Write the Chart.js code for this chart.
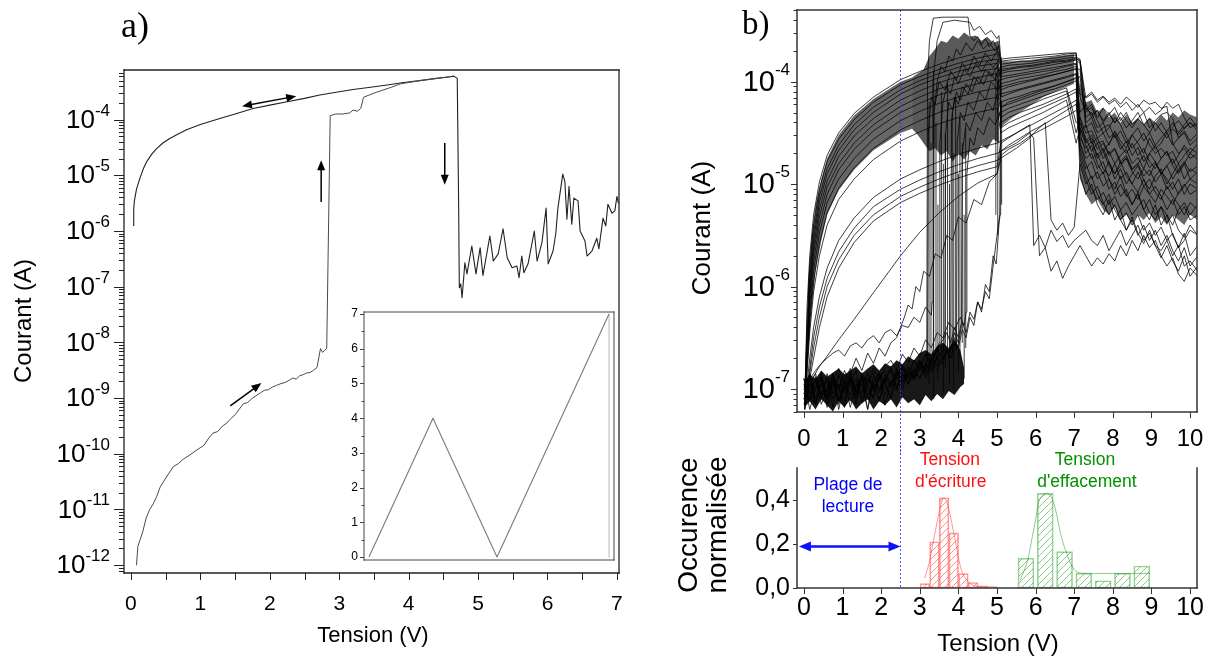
<!DOCTYPE html>
<html>
<head>
<meta charset="utf-8">
<title>Courant - Tension</title>
<script src="https://cdn.jsdelivr.net/npm/chart.js@4.4.1/dist/chart.umd.min.js"></script>
<style>
  html, body { margin: 0; padding: 0; background: #fff; }
  #page { position: relative; width: 1211px; height: 659px; overflow: hidden; }
  canvas { position: absolute; }
</style>
</head>
<body>
<div id="page">
  <canvas id="chartA" width="640" height="659" style="left:0;top:0"></canvas>
  <canvas id="chartIn" width="290" height="270" style="left:330px;top:300px"></canvas>
  <canvas id="chartB" width="551" height="455" style="left:660px;top:0"></canvas>
  <canvas id="chartH" width="551" height="214" style="left:660px;top:445px"></canvas>
</div>
<script>
// ---------- panel a : [tension V, log10(courant A)] ----------
var aXTicks = [0, 1, 2, 3, 4, 5, 6, 7];
var aYExp = [-12, -11, -10, -9, -8, -7, -6, -5, -4];

// first sweep (pristine, then set)
var aSet = [[0.08,-12.0],[0.10,-11.66],[0.13,-11.55],[0.17,-11.4],[0.22,-11.15],[0.27,-11.0],[0.32,-10.9],[0.37,-10.77],
  [0.42,-10.6],[0.46,-10.52],[0.52,-10.4],[0.61,-10.23],[0.68,-10.18],[0.75,-10.1],[0.85,-10.02],[0.95,-9.93],[1.05,-9.85],
  [1.12,-9.72],[1.18,-9.63],[1.25,-9.6],[1.32,-9.5],[1.38,-9.45],[1.43,-9.38],[1.5,-9.3],[1.56,-9.2],[1.62,-9.1],[1.68,-9.08],
  [1.75,-9.0],[1.8,-8.96],[1.86,-8.91],[1.92,-8.86],[1.98,-8.85],[2.04,-8.8],[2.1,-8.77],[2.16,-8.74],[2.22,-8.72],[2.28,-8.68],
  [2.33,-8.64],[2.38,-8.66],[2.43,-8.6],[2.48,-8.58],[2.53,-8.55],[2.58,-8.54],[2.63,-8.5],[2.68,-8.45],[2.71,-8.25],[2.73,-8.11],
  [2.76,-8.18],[2.79,-8.14],[2.82,-8.11],[2.87,-3.93],[2.95,-3.9],[3.05,-3.9],[3.15,-3.88],[3.2,-3.83],[3.26,-3.85],[3.31,-3.8],
  [3.35,-3.6],[3.49,-3.53],[3.63,-3.47],[3.75,-3.42],[3.88,-3.36],[4.16,-3.3],[4.6,-3.23]];

// second sweep (on state, reset, noisy off state)
var aOn = [[0.03,-5.9],[0.04,-5.6],[0.05,-5.46],[0.08,-5.25],[0.13,-5.05],[0.18,-4.88],[0.23,-4.75],[0.3,-4.62],[0.37,-4.52],
  [0.46,-4.42],[0.56,-4.34],[0.68,-4.26],[0.81,-4.18],[1.0,-4.09],[1.28,-3.98],[1.5,-3.9],[1.76,-3.8],[2.0,-3.74],[2.25,-3.68],
  [2.5,-3.62],[2.72,-3.56],[3.0,-3.5],[3.2,-3.46],[3.45,-3.42],[3.69,-3.38],[3.9,-3.34],[4.16,-3.3],[4.4,-3.26],[4.6,-3.23],
  [4.65,-3.22],[4.7,-3.26],[4.72,-5.5]];
var aOff = [[4.73,-7.02],[4.75,-6.95],[4.77,-7.2],[4.81,-6.57],[4.84,-6.77],[4.91,-6.27],[4.97,-6.77],[5.03,-6.3],[5.07,-6.8],
  [5.17,-6.09],[5.22,-6.54],[5.29,-6.41],[5.36,-5.96],[5.42,-6.48],[5.49,-6.66],[5.56,-6.63],[5.59,-6.84],[5.63,-6.45],[5.66,-6.75],
  [5.72,-6.59],[5.81,-6.0],[5.85,-6.54],[5.92,-6.21],[5.98,-5.59],[6.01,-6.59],[6.08,-6.36],[6.12,-6.04],[6.15,-5.59],[6.22,-4.98],
  [6.25,-5.11],[6.28,-5.79],[6.31,-5.2],[6.35,-5.88],[6.38,-5.41],[6.44,-5.46],[6.47,-6.0],[6.54,-6.18],[6.57,-6.45],[6.64,-6.36],
  [6.71,-6.13],[6.74,-6.32],[6.8,-5.77],[6.84,-5.91],[6.87,-5.52],[6.93,-5.68],[6.97,-5.64],[7.0,-5.38],[7.02,-5.5]];

// arrows drawn on panel a: [V1, log I1, V2, log I2, heads]
var aArrows = [[1.60,-3.76,2.38,-3.58,2],[2.74,-5.48,2.74,-4.73,1],[4.52,-4.42,4.52,-5.17,1],[1.43,-9.14,1.88,-8.73,1]];

// inset : applied voltage program
var inT = [0, 4, 8, 15];
var inV = [0, 4, 0, 7];
var inBackT = [15, 15];
var inBackV = [7, 0];
var inTicks = [0, 1, 2, 3, 4, 5, 6, 7];

// ---------- panel b (top) : log10(courant A) ----------
var bXTicks = [0, 1, 2, 3, 4, 5, 6, 7, 8, 9, 10];
var bYExp = [-7, -6, -5, -4];

// dense parts of the bundle (envelopes)
var bandOffV = [0.02,0.15,0.3,0.45,0.6,0.75,0.9,1.05,1.2,1.35,1.5,1.65,1.8,1.95,2.1,2.25,2.4,2.55,2.7,2.85,3.0,3.15,3.3,3.45,3.6,3.75,3.9,4.05,4.15];
var bandOffTop = [-6.95,-6.86,-6.9,-6.82,-6.88,-6.84,-6.8,-6.86,-6.82,-6.78,-6.85,-6.8,-6.76,-6.82,-6.75,-6.78,-6.72,-6.76,-6.68,-6.72,-6.65,-6.62,-6.66,-6.58,-6.55,-6.6,-6.52,-6.62,-6.8];
var bandOffBot = [-7.18,-7.12,-7.2,-7.1,-7.16,-7.22,-7.12,-7.18,-7.1,-7.2,-7.14,-7.1,-7.2,-7.12,-7.16,-7.1,-7.18,-7.08,-7.14,-7.1,-7.16,-7.06,-7.12,-7.05,-7.1,-7.02,-7.06,-6.98,-6.95];
var bandOnV = [0.1, 0.2, 0.3, 0.45, 0.6, 0.9, 1.3, 1.8, 2.5, 2.8];
var bandOnTop = [-6.0, -5.5, -5.2, -4.95, -4.75, -4.52, -4.33, -4.17, -4.0, -3.96];
var bandOnBot = [-6.7, -6.2, -5.85, -5.55, -5.3, -5.06, -4.86, -4.67, -4.5, -4.46];
var bandSetV = [2.8, 2.95, 3.1, 3.25, 3.4, 3.55, 3.7, 3.85, 4.0, 4.15, 4.3, 4.45, 4.6, 4.75, 4.9, 5.05];
var bandSetTop = [-3.96, -3.92, -3.88, -3.75, -3.68, -3.6, -3.62, -3.55, -3.58, -3.52, -3.56, -3.55, -3.6, -3.56, -3.62, -3.6];
var bandSetBot = [-4.46, -4.52, -4.6, -4.68, -4.65, -4.72, -4.68, -4.78, -4.7, -4.76, -4.68, -4.72, -4.62, -4.66, -4.56, -4.6];
var bandMidV = [5.08, 5.4, 5.8, 6.2, 6.6, 7.0];
var bandMidTop = [-3.8, -3.8, -3.79, -3.77, -3.75, -3.73];
var bandMidBot = [-4.45, -4.35, -4.25, -4.15, -4.08, -4.02];
var bandTailV = [7.15,7.3,7.45,7.6,7.75,7.9,8.05,8.2,8.35,8.5,8.65,8.8,8.95,9.1,9.25,9.4,9.55,9.7,9.85,10.0,10.2];
var bandTailTop = [-4.0,-4.2,-4.18,-4.3,-4.25,-4.35,-4.3,-4.4,-4.32,-4.4,-4.36,-4.42,-4.35,-4.4,-4.32,-4.38,-4.3,-4.35,-4.28,-4.32,-4.35];
var bandTailBot = [-4.95,-5.1,-5.2,-5.15,-5.25,-5.3,-5.22,-5.35,-5.3,-5.38,-5.3,-5.35,-5.28,-5.38,-5.32,-5.4,-5.3,-5.35,-5.4,-5.3,-5.35];

var onV = [0.02, 0.08, 0.15, 0.25, 0.4, 0.6, 0.9, 1.3, 1.8, 2.5, 3.0, 3.5, 4.0, 4.5, 5.0];
var onLogs = [
  [-7.15,-6.2,-5.7,-5.3,-4.98,-4.72,-4.5,-4.31,-4.15,-3.98,-3.9,-3.83,-3.77,-3.72,-3.68],
  [-7.1,-6.35,-5.8,-5.4,-5.05,-4.78,-4.56,-4.37,-4.2,-4.03,-3.95,-3.88,-3.82,-3.77,-3.73],
  [-7.2,-6.45,-5.9,-5.48,-5.12,-4.85,-4.62,-4.42,-4.25,-4.08,-3.99,-3.92,-3.86,-3.81,-3.78],
  [-7.05,-6.5,-5.98,-5.55,-5.18,-4.9,-4.67,-4.47,-4.3,-4.12,-4.03,-3.96,-3.9,-3.85,-3.82],
  [-7.15,-6.6,-6.05,-5.62,-5.25,-4.97,-4.73,-4.53,-4.36,-4.18,-4.09,-4.01,-3.95,-3.9,-3.87],
  [-7.1,-6.65,-6.1,-5.68,-5.32,-5.03,-4.8,-4.6,-4.42,-4.24,-4.15,-4.07,-4.01,-3.96,-3.92],
  [-7.2,-6.7,-6.2,-5.76,-5.4,-5.1,-4.86,-4.66,-4.48,-4.3,-4.21,-4.13,-4.07,-4.02,-3.98],
  [-7.1,-6.75,-6.28,-5.85,-5.48,-5.18,-4.95,-4.75,-4.56,-4.38,-4.29,-4.21,-4.15,-4.1,-4.06],
  [-7.15,-6.8,-6.35,-5.95,-5.58,-5.28,-5.04,-4.84,-4.65,-4.47,-4.38,-4.3,-4.24,-4.19,-4.15],
  [-7.2,-6.85,-6.45,-6.05,-5.7,-5.4,-5.15,-4.95,-4.76,-4.58,-4.49,-4.41,-4.35,-4.3,-4.26],
  [-7.1,-6.95,-6.7,-6.4,-6.1,-5.82,-5.55,-5.33,-5.13,-4.95,-4.86,-4.78,-4.71,-4.65,-4.6],
  [-7.15,-7.0,-6.8,-6.5,-6.2,-5.92,-5.66,-5.43,-5.22,-5.05,-4.96,-4.88,-4.81,-4.75,-4.7],
  [-7.2,-7.05,-6.85,-6.6,-6.3,-6.0,-5.74,-5.5,-5.3,-5.12,-5.03,-4.95,-4.88,-4.82,-4.77],
  [-7.1,-7.0,-6.9,-6.7,-6.4,-6.1,-5.82,-5.57,-5.36,-5.18,-5.09,-5.01,-4.94,-4.88,-4.83],
  [-7.15,-7.05,-6.98,-6.88,-6.78,-6.68,-6.52,-6.32,-6.06,-5.7,-5.47,-5.28,-5.12,-4.99,-4.9]
];
var onMid  = [0, 1, 2, 3, 4, 5, 6, 7, 8, 9, -1, -1, -1, 10, 11];
var onLow  = [-1, -1, -1, -1, -1, -1, -1, -1, -1, -1, 0, 1, 2, -1, -1];
var onTail = [0, 1, 10, 12, 2, 6, 15, 3, 4, 11, 8, 9, 14, 5, 7];

var offV = [0,0.15,0.3,0.45,0.6,0.75,0.9,1.05,1.2,1.35,1.5,1.65,1.8,1.95,2.1,2.25,2.4,2.55,2.7,2.85,3.0,3.15,3.3,3.45,3.6];
var offNoise = [
  [-6.95,-7.12,-6.88,-7.05,-6.92,-7.18,-6.85,-7.02,-6.9,-7.15,-6.86,-6.98,-7.1,-6.84,-6.96,-7.08,-6.82,-6.92,-6.78,-6.88,-6.74,-6.8],
  [-7.05,-6.9,-7.15,-6.95,-7.08,-6.86,-7.0,-7.18,-6.9,-7.02,-6.88,-7.1,-6.94,-7.04,-6.86,-6.98,-6.8,-6.95,-6.84,-6.9,-6.76,-6.85,-6.72],
  [-6.9,-7.2,-7.0,-6.85,-7.1,-6.95,-7.15,-6.92,-6.8,-7.05,-6.95,-7.2,-6.88,-7.0,-6.92,-6.78,-7.0,-6.85,-6.95,-6.82,-6.9,-6.75,-6.82,-6.7],
  [-7.1,-6.95,-6.85,-7.08,-6.98,-6.88,-7.2,-6.94,-7.06,-6.9,-7.14,-6.96,-6.84,-7.02,-6.92,-7.1,-6.88,-6.8,-6.96,-6.86,-6.72,-6.9,-6.78,-6.7,-6.62],
  [-6.98,-6.85,-7.1,-6.9,-7.18,-7.0,-6.86,-7.05,-6.95,-6.82,-7.1,-6.9,-7.02,-6.88,-7.16,-6.94,-6.86,-7.0,-6.84,-6.92,-6.8,-6.88,-6.74,-6.82,-6.7],
  [-7.15,-7.0,-6.9,-7.1,-6.85,-7.05,-6.96,-7.12,-6.88,-7.0,-6.9,-7.2,-6.94,-6.84,-7.06,-6.92,-7.02,-6.86,-6.94,-6.8,-6.9,-6.76,-6.84,-6.68,-6.76],
  [-6.9,-7.1,-7.0,-6.88,-7.16,-6.92,-7.02,-6.86,-7.12,-6.96,-7.04,-6.84,-6.98,-7.1,-6.9,-6.82,-6.98,-6.78,-6.9,-6.72,-6.82,-6.66,-6.74,-6.6,-6.52],
  [-7.0,-6.88,-7.14,-6.95,-7.05,-6.9,-7.0,-6.82,-6.96,-7.1,-6.86,-6.92,-6.8,-6.9,-6.78,-6.72,-6.82,-6.66,-6.74,-6.6,-6.68,-6.52,-6.6,-6.45,-6.5],
  [-7.1,-6.9,-6.82,-6.75,-6.7,-6.65,-6.62,-6.68,-6.58,-6.55,-6.6,-6.52,-6.48,-6.55,-6.45,-6.42,-6.48,-6.38,-6.4,-6.3,-6.35,-6.2,-6.28],
  [-6.95,-7.05,-6.9,-7.15,-7.0,-6.85,-7.1,-6.92,-7.18,-6.96,-6.88,-7.06,-6.94,-7.12,-6.9,-6.98,-6.84,-6.95,-6.8,-6.9,-6.74,-6.84],
  [-7.0,-7.12,-6.92,-7.05,-6.88,-7.1,-6.95,-7.02,-6.85,-7.08,-6.94,-6.86,-7.0,-6.9,-6.82,-6.95,-6.86,-6.78,-6.9,-6.8,-6.72,-6.82,-6.7,-6.78,-6.68],
  [-6.9,-7.05,-7.15,-6.95,-7.02,-6.88,-7.12,-6.98,-6.9,-7.05,-6.84,-6.96,-7.08,-6.86,-6.94,-6.8,-6.9,-6.76,-6.86,-6.72,-6.8,-6.66,-6.74,-6.62,-6.7],
  [-7.05,-6.9,-7.0,-6.85,-7.1,-6.92,-6.8,-6.95,-6.85,-6.7,-6.82,-6.65,-6.75,-6.6,-6.68,-6.55,-6.5]
];
var offSet = [
  [[3.18,-6.7],[3.2,-4.0],[3.25,-3.6],[3.35,-3.38],[3.6,-3.37],[4.25,-3.37],[4.3,-3.55],[4.4,-3.6],[4.5,-3.56],[4.6,-3.64],[4.7,-3.58],[4.8,-3.66],[4.9,-3.6],[5.0,-3.68],[5.05,-3.64]],
  [[3.35,-6.6],[3.37,-4.3],[3.45,-4.0],[3.55,-3.85],[3.65,-3.9],[3.75,-3.75],[3.85,-3.8],[3.95,-3.68],[4.05,-3.74],[4.2,-3.62],[4.35,-3.7],[4.5,-3.6],[4.65,-3.68],[4.8,-3.62],[4.95,-3.7],[5.05,-3.66]],
  [[3.5,-6.55],[3.52,-4.6],[3.6,-4.2],[3.7,-4.05],[3.8,-4.12],[3.9,-3.95],[4.0,-4.02],[4.15,-3.88],[4.3,-3.95],[4.45,-3.82],[4.6,-3.9],[4.75,-3.8],[4.9,-3.86],[5.08,-3.78]],
  [[3.65,-6.55],[3.67,-4.5],[3.75,-4.2],[3.85,-4.28],[3.95,-4.1],[4.05,-4.18],[4.2,-4.02],[4.35,-4.1],[4.5,-3.95],[4.65,-4.03],[4.8,-3.9],[4.95,-3.98],[5.05,-3.88]],
  [[3.7,-6.62],[3.75,-6.7],[3.8,-6.58],[3.82,-4.4],[3.9,-4.15],[4.0,-4.22],[4.1,-4.05],[4.25,-4.12],[4.4,-3.95],[4.55,-4.02],[4.7,-3.88],[4.85,-3.95],[5.0,-3.85],[5.08,-3.9]],
  [[3.7,-6.6],[3.8,-6.7],[3.9,-6.55],[3.95,-6.62],[3.97,-4.6],[4.05,-4.3],[4.15,-4.38],[4.25,-4.2],[4.4,-4.28],[4.55,-4.1],[4.7,-4.18],[4.85,-4.0],[5.0,-4.08],[5.05,-3.98]],
  [[3.7,-6.45],[3.8,-6.55],[3.9,-6.4],[4.0,-6.5],[4.08,-6.35],[4.1,-4.7],[4.2,-4.4],[4.3,-4.48],[4.45,-4.3],[4.6,-4.38],[4.75,-4.2],[4.9,-4.28],[5.0,-4.12],[5.08,-4.18]],
  [[3.75,-6.35],[3.9,-6.42],[4.05,-6.3],[4.15,-6.38],[4.2,-6.25],[4.22,-4.9],[4.3,-4.55],[4.4,-4.62],[4.5,-4.45],[4.65,-4.52],[4.8,-4.35],[4.95,-4.42],[5.08,-4.3]],
  [[3.32,-6.15],[3.34,-4.0],[3.45,-3.6],[3.6,-3.42],[3.9,-3.4],[4.3,-3.42],[4.4,-3.5],[4.55,-3.46],[4.7,-3.54],[4.85,-3.5],[5.0,-3.58],[5.05,-3.55]],
  [[3.2,-6.7],[3.22,-4.5],[3.3,-4.15],[3.4,-4.22],[3.5,-4.0],[3.65,-4.08],[3.8,-3.9],[3.95,-3.98],[4.1,-3.82],[4.25,-3.9],[4.4,-3.75],[4.55,-3.84],[4.7,-3.72],[4.85,-3.8],[5.0,-3.7],[5.08,-3.76]],
  [[3.8,-6.62],[3.9,-6.5],[4.0,-6.6],[4.1,-6.42],[4.2,-6.5],[4.3,-6.3],[4.4,-6.38],[4.5,-6.15],[4.6,-6.25],[4.7,-5.98],[4.8,-6.05],[4.9,-5.7],[4.98,-5.78],[5.05,-5.4],[5.08,-5.3],[5.09,-4.15]],
  [[3.8,-6.6],[3.9,-6.45],[4.0,-6.55],[4.1,-6.35],[4.2,-6.45],[4.3,-6.25],[4.4,-6.32],[4.5,-6.15],[4.6,-6.22],[4.7,-6.05],[4.8,-6.12],[4.9,-5.8],[5.0,-5.5],[5.07,-5.3],[5.09,-4.3]],
  [[2.6,-6.3],[2.7,-6.18],[2.8,-6.22],[2.9,-6.0],[3.0,-6.05],[3.1,-5.85],[3.25,-5.9],[3.4,-5.68],[3.55,-5.72],[3.7,-5.5],[3.85,-5.55],[4.0,-5.32],[4.2,-5.38],[4.4,-5.15],[4.6,-5.2],[4.8,-4.98],[5.0,-4.9],[5.08,-4.78]]
];
var offMid  = [12, 18, 13, 14, 15, 16, 17, 19, 20, 21, 22, 23, 24];
var offTail = [18, 21, 17, 13, 16, 19, 20, 22, 23, 24, 25, -1, -1];

// extra set / reset jumps : voltage, low log I, high log I
var jumpV  = [3.24, 3.29, 3.36, 3.42, 3.47, 3.56, 3.61, 3.66, 3.72, 3.77, 3.84, 3.88, 3.93, 4.0, 4.04, 4.1, 4.15, 4.19, 4.97, 5.02, 5.12];
var jumpLo = [-6.95, -6.8, -7.1, -6.75, -6.9, -6.7, -7.05, -6.8, -6.65, -6.95, -6.7, -7.0, -6.6, -6.85, -6.7, -6.55, -6.9, -6.6, -5.3, -5.5, -5.2];
var jumpHi = [-4.2, -4.6, -3.9, -4.4, -5.2, -4.1, -4.8, -4.5, -4.0, -5.0, -4.3, -4.7, -4.15, -4.9, -4.35, -4.6, -5.3, -4.45, -3.9, -4.0, -4.2];

var midV = [5.1, 5.3, 5.6, 5.9, 6.2, 6.5, 6.8, 7.05];
var midLogs = [
  [-3.8,-3.79,-3.78,-3.77,-3.76,-3.75,-3.73,-3.72],
  [-3.86,-3.84,-3.83,-3.82,-3.8,-3.79,-3.77,-3.76],
  [-3.92,-3.9,-3.89,-3.87,-3.85,-3.83,-3.81,-3.79],
  [-3.98,-3.96,-3.94,-3.92,-3.9,-3.88,-3.85,-3.83],
  [-4.05,-4.03,-4.0,-3.98,-3.95,-3.93,-3.9,-3.87],
  [-4.12,-4.1,-4.07,-4.04,-4.01,-3.98,-3.95,-3.92],
  [-4.2,-4.17,-4.14,-4.1,-4.07,-4.04,-4.0,-3.97],
  [-4.3,-4.26,-4.22,-4.18,-4.14,-4.1,-4.06,-4.4],
  [-4.4,-4.35,-4.3,-4.26,-4.22,-4.17,-4.12,-4.07],
  [-4.5,-4.45,-4.4,-4.35,-4.3,-4.24,-4.18,-4.6],
  [-4.6,-4.55,-4.48,-4.42,-4.36,-4.3,-4.24,-4.18],
  [-4.68,-4.62,-4.55,-4.48,-4.42,-4.35,-4.28,-4.22],
  [-3.83,-3.82,-3.8,-3.8,-3.78,-3.77,-3.75,-3.74],
  [-3.95,-3.94,-3.92,-3.9,-3.88,-3.86,-3.84,-3.82],
  [-4.02,-4.0,-3.97,-3.95,-3.93,-3.9,-3.88,-3.85],
  [-4.15,-4.12,-4.08,-4.05,-4.02,-3.99,-3.96,-3.93],
  [-4.25,-4.22,-4.18,-4.14,-4.1,-4.07,-4.03,-3.99],
  [-4.35,-4.3,-4.26,-4.22,-4.17,-4.13,-4.09,-4.5],
  [-3.88,-3.87,-3.85,-3.84,-3.82,-3.8,-3.79,-3.77],
  [-4.45,-4.4,-4.35,-4.3,-4.25,-4.2,-4.15,-4.1],
  [-3.78,-3.77,-3.76,-3.75,-3.74,-3.73,-3.72,-3.72],
  [-3.9,-3.88,-3.86,-3.85,-3.83,-3.81,-3.8,-3.78],
  [-4.08,-4.05,-4.02,-3.99,-3.96,-3.93,-3.9,-3.88],
  [-4.25,-4.2,-4.16,-4.12,-4.08,-4.04,-4.0,-3.96],
  [-4.72,-4.66,-4.6,-4.52,-4.46,-4.4,-4.34,-4.28]
];

var lowV = [5.5, 5.85, 5.95, 6.1, 6.25, 6.4, 6.55, 6.7, 6.85, 7.0];
var lowLogs = [
  [-4.5,-4.42,-5.6,-5.5,-5.62,-5.45,-5.56,-5.5,-5.62,-5.55],
  [-4.6,-4.5,-4.55,-5.7,-5.62,-5.85,-5.75,-5.92,-5.8,-5.7],
  [-4.65,-4.55,-4.5,-4.45,-4.4,-5.35,-5.45,-5.38,-5.5,-5.42]
];

var tailV = [7.15,7.3,7.45,7.6,7.75,7.9,8.05,8.2,8.35,8.5,8.65,8.8,8.95,9.1,9.25,9.4,9.55,9.7,9.85,10.0,10.2];
var tailLogs = [
  [-4.12,-4.15,-4.1,-4.18,-4.14,-4.2,-4.16,-4.22,-4.15,-4.2,-4.25,-4.18,-4.22,-4.2,-4.26,-4.24,-4.6,-4.7,-4.65,-4.75,-4.7],
  [-3.78,-4.25,-4.32,-4.28,-4.38,-4.3,-4.4,-4.35,-4.45,-4.38,-4.3,-4.42,-4.36,-4.48,-4.4,-4.5,-4.44,-4.38,-4.46,-4.4,-4.45],
  [-3.88,-4.45,-4.4,-4.55,-4.5,-4.62,-4.48,-4.58,-4.65,-4.52,-4.6,-4.7,-4.55,-4.66,-4.6,-4.5,-4.62,-4.55,-4.48,-4.58,-4.5],
  [-4.4,-4.55,-4.68,-4.6,-4.75,-4.68,-4.8,-4.72,-4.66,-4.8,-4.74,-4.85,-4.7,-4.78,-4.9,-4.82,-4.75,-4.88,-4.8,-4.7,-4.76],
  [-4.5,-4.7,-4.62,-4.8,-4.9,-4.78,-4.95,-4.85,-5.0,-4.9,-4.82,-4.96,-5.05,-4.92,-4.85,-5.0,-4.9,-4.8,-4.95,-4.85,-4.9],
  [-4.6,-4.8,-4.95,-4.88,-5.02,-4.95,-5.1,-5.0,-5.12,-5.05,-5.15,-5.02,-5.1,-5.18,-5.05,-5.12,-5.2,-5.08,-5.0,-5.1,-5.05],
  [-4.35,-4.5,-4.48,-4.6,-4.58,-4.7,-4.65,-4.78,-4.72,-4.85,-4.8,-4.92,-4.86,-4.98,-4.9,-5.05,-4.98,-5.1,-5.02,-4.95,-5.0],
  [-4.7,-4.9,-5.05,-5.15,-5.08,-5.2,-5.12,-5.25,-5.18,-5.3,-5.22,-5.15,-5.28,-5.35,-5.22,-5.3,-5.4,-5.25,-5.18,-5.3,-5.2],
  [-5.5,-5.45,-5.55,-5.6,-5.5,-5.65,-5.55,-5.45,-5.6,-5.5,-5.4,-5.55,-5.48,-5.6,-5.65,-5.55,-5.7,-5.6,-5.8,-5.75,-5.85],
  [-5.6,-5.7,-5.8,-5.72,-5.78,-5.68,-5.75,-5.6,-5.7,-5.55,-5.65,-5.5,-5.62,-5.55,-5.7,-5.8,-5.72,-5.88,-5.95,-5.82,-5.9],
  [-3.82,-4.4,-4.35,-4.5,-4.45,-4.42,-4.55,-4.48,-4.6,-4.52,-4.45,-4.58,-4.5,-4.62,-4.55,-4.48,-4.4,-4.5,-4.42,-4.35,-4.45],
  [-4.45,-4.62,-4.75,-4.7,-4.85,-4.92,-4.8,-4.95,-4.88,-5.0,-5.08,-4.95,-5.1,-5.02,-5.12,-5.25,-5.15,-5.3,-5.22,-5.35,-5.3],
  [-4.15,-4.3,-4.25,-4.38,-4.5,-4.45,-4.35,-4.42,-4.55,-4.65,-4.58,-4.5,-4.62,-4.7,-4.65,-4.72,-4.68,-4.8,-4.72,-4.65,-4.7],
  [-4.55,-4.65,-4.58,-4.72,-4.65,-4.78,-4.9,-4.82,-4.75,-4.88,-4.95,-4.85,-4.92,-4.8,-4.88,-4.95,-5.05,-4.95,-5.1,-5.0,-5.05],
  [-4.8,-5.0,-4.92,-5.1,-5.2,-5.1,-5.25,-5.35,-5.28,-5.4,-5.3,-5.45,-5.38,-5.5,-5.42,-5.55,-5.48,-5.62,-5.55,-5.45,-5.5],
  [-3.95,-4.35,-4.3,-4.45,-4.4,-4.55,-4.5,-4.62,-4.7,-4.6,-4.72,-4.65,-4.78,-4.85,-4.75,-4.68,-4.8,-4.72,-4.62,-4.7,-4.6],
  [-4.9,-5.1,-5.0,-5.2,-5.3,-5.15,-5.35,-5.25,-5.45,-5.35,-5.5,-5.4,-5.55,-5.45,-5.6,-5.5,-5.65,-5.75,-5.62,-5.8,-5.7],
  [-4.5,-4.42,-4.6,-4.55,-4.68,-4.6,-4.52,-4.66,-4.58,-4.72,-4.64,-4.78,-4.7,-4.62,-4.75,-4.68,-4.82,-4.9,-4.8,-4.95,-4.88],
  [-4.3,-4.22,-4.35,-4.28,-4.4,-4.32,-4.25,-4.38,-4.3,-4.42,-4.36,-4.3,-4.45,-4.38,-4.32,-4.3,-4.36,-4.55,-4.5,-4.62,-4.55],
  [-4.65,-4.85,-4.78,-4.95,-4.88,-5.05,-4.98,-5.12,-5.05,-5.2,-5.1,-5.25,-5.15,-5.3,-5.22,-5.38,-5.3,-5.45,-5.52,-5.4,-5.5],
  [-4.35,-4.6,-4.55,-4.75,-4.68,-4.82,-4.9,-4.78,-4.92,-5.0,-4.88,-5.02,-4.95,-5.08,-5.15,-5.02,-5.12,-5.2,-5.3,-5.18,-5.25],
  [-3.8,-4.28,-4.22,-4.35,-4.26,-4.32,-4.4,-4.3,-4.38,-4.45,-4.36,-4.42,-4.5,-4.4,-4.48,-4.55,-4.46,-4.52,-4.45,-4.4,-4.48],
  [-4.6,-4.75,-4.7,-4.85,-4.78,-4.95,-5.05,-4.92,-5.1,-5.2,-5.08,-5.25,-5.35,-5.2,-5.4,-5.3,-5.5,-5.62,-5.48,-5.7,-5.6],
  [-4.45,-4.58,-4.52,-4.66,-4.6,-4.72,-4.66,-4.8,-4.74,-4.86,-4.8,-4.72,-4.84,-4.78,-4.9,-4.82,-4.95,-4.86,-4.78,-4.88,-4.82],
  [-3.79,-4.16,-4.12,-4.2,-4.15,-4.22,-4.18,-4.25,-4.2,-4.28,-4.22,-4.3,-4.25,-4.32,-4.28,-4.2,-4.26,-4.22,-4.35,-4.45,-4.4],
  [-4.75,-4.95,-5.1,-5.02,-5.18,-5.3,-5.2,-5.35,-5.45,-5.32,-5.48,-5.58,-5.45,-5.6,-5.72,-5.6,-5.75,-5.85,-5.7,-5.9,-5.8]
];

// ---------- panel b (bottom) : histograms ----------
var hXTicks = [0, 1, 2, 3, 4, 5, 6, 7, 8, 9, 10];
var hYTicks = [0, 0.2, 0.4];
var hYLabels = ['0,0', '0,2', '0,4'];
var writeV = [3.13, 3.38, 3.63, 3.88, 4.13, 4.38, 4.63, 4.88];
var writeH = [0.02, 0.21, 0.41, 0.25, 0.065, 0.025, 0.01, 0.005];
var eraseV = [5.75, 6.25, 6.75, 7.25, 7.75, 8.25, 8.75];
var eraseH = [0.135, 0.43, 0.165, 0.067, 0.033, 0.067, 0.10];
var writeFitV = [3.13, 3.25, 3.35, 3.45, 3.55, 3.62, 3.7, 3.8, 3.9, 4.0, 4.08, 4.2, 4.35, 4.6, 5.0];
var writeFitH = [0.045, 0.12, 0.21, 0.3, 0.38, 0.41, 0.39, 0.32, 0.23, 0.14, 0.08, 0.04, 0.015, 0.006, 0.004];
var eraseFitV = [5.6, 5.8, 5.9, 6.0, 6.07, 6.18, 6.28, 6.38, 6.46, 6.55, 6.63, 6.72, 6.8, 6.9, 7.02, 7.24, 7.6, 8.2, 8.96];
var eraseFitH = [0.036, 0.13, 0.22, 0.31, 0.385, 0.42, 0.43, 0.42, 0.39, 0.33, 0.26, 0.2, 0.16, 0.115, 0.08, 0.067, 0.066, 0.066, 0.066];
var readRange = [-0.13, 2.5, 0.188];
var readLimit = 2.5;

// ---------- helpers ----------
var SANS = '"Liberation Sans", Arial, sans-serif';
var SERIF = '"Liberation Serif", "Times New Roman", serif';

function pts(list) { return list.map(function (p) { return { x: p[0], y: Math.pow(10, p[1]) }; }); }
function seg(xs, ls) {
  var out = [];
  ls.forEach(function (l, i) { if (xs[i] !== undefined) out.push({ x: xs[i], y: Math.pow(10, l) }); });
  return out;
}
function xy(xs, ys) { return xs.map(function (x, i) { return { x: x, y: ys[i] }; }); }

function line(ctx, x1, y1, x2, y2) { ctx.beginPath(); ctx.moveTo(x1, y1); ctx.lineTo(x2, y2); ctx.stroke(); }

function frame(chart, sides, w, col) {
  var a = chart.chartArea, ctx = chart.ctx;
  ctx.save(); ctx.strokeStyle = col; ctx.lineWidth = w; ctx.lineCap = 'square';
  if (sides.indexOf('l') >= 0) line(ctx, a.left, a.top, a.left, a.bottom);
  if (sides.indexOf('r') >= 0) line(ctx, a.right, a.top, a.right, a.bottom);
  if (sides.indexOf('t') >= 0) line(ctx, a.left, a.top, a.right, a.top);
  if (sides.indexOf('b') >= 0) line(ctx, a.left, a.bottom, a.right, a.bottom);
  ctx.restore();
}
function ticksX(chart, vals, len, col) {
  var s = chart.scales.x, a = chart.chartArea, ctx = chart.ctx;
  ctx.save(); ctx.strokeStyle = col; ctx.lineWidth = 1;
  vals.forEach(function (v) { var x = Math.round(s.getPixelForValue(v)) + 0.5; line(ctx, x, a.bottom, x, a.bottom + len); });
  ctx.restore();
}
function ticksY(chart, vals, len, col) {
  var s = chart.scales.y, a = chart.chartArea, ctx = chart.ctx;
  ctx.save(); ctx.strokeStyle = col; ctx.lineWidth = 1;
  vals.forEach(function (v) { var y = Math.round(s.getPixelForValue(v)) + 0.5; line(ctx, a.left, y, a.left - len, y); });
  ctx.restore();
}
function labelsX(chart, vals, dy, font) {
  var s = chart.scales.x, a = chart.chartArea, ctx = chart.ctx;
  ctx.save(); ctx.fillStyle = '#000'; ctx.font = font; ctx.textAlign = 'center'; ctx.textBaseline = 'middle';
  vals.forEach(function (v) { ctx.fillText(String(v), s.getPixelForValue(v), a.bottom + dy); });
  ctx.restore();
}
function labelsY(chart, vals, texts, dx, font) {
  var s = chart.scales.y, a = chart.chartArea, ctx = chart.ctx;
  ctx.save(); ctx.fillStyle = '#000'; ctx.font = font; ctx.textAlign = 'right'; ctx.textBaseline = 'middle';
  vals.forEach(function (v, i) { ctx.fillText(texts[i], a.left - dx, s.getPixelForValue(v)); });
  ctx.restore();
}
function powLabels(chart, exps, dx, f1, f2, up) {
  var s = chart.scales.y, a = chart.chartArea, ctx = chart.ctx;
  ctx.save(); ctx.fillStyle = '#000'; ctx.textAlign = 'left';
  exps.forEach(function (e) {
    var y = s.getPixelForValue(Math.pow(10, e)), xr = a.left - dx;
    ctx.font = f2; var w2 = ctx.measureText(String(e)).width;
    ctx.font = f1; var w1 = ctx.measureText('10').width;
    ctx.textBaseline = 'middle'; ctx.fillText('10', xr - w2 - w1, y + 1);
    ctx.font = f2; ctx.textBaseline = 'alphabetic'; ctx.fillText(String(e), xr - w2, y - up);
  });
  ctx.restore();
}
function logTicks(lo, hi) {
  var major = [], minor = [];
  for (var e = -14; e <= -2; e++) for (var m = 1; m < 10; m++) {
    var v = m * Math.pow(10, e);
    if (v < lo || v > hi) continue;
    (m === 1 ? major : minor).push(v);
  }
  return { major: major, minor: minor };
}
function text(ctx, t, x, y, font, col, align, base) {
  ctx.save(); ctx.fillStyle = col; ctx.font = font; ctx.textAlign = align || 'center'; ctx.textBaseline = base || 'middle';
  ctx.fillText(t, x, y); ctx.restore();
}
function vText(ctx, t, x, y, font, col) {
  ctx.save(); ctx.translate(x, y); ctx.rotate(-Math.PI / 2); ctx.fillStyle = col; ctx.font = font;
  ctx.textAlign = 'center'; ctx.textBaseline = 'alphabetic'; ctx.fillText(t, 0, 0); ctx.restore();
}
function head(ctx, x1, y1, x2, y2, len, half) {
  var ang = Math.atan2(y2 - y1, x2 - x1), c = Math.cos(ang), s = Math.sin(ang);
  ctx.beginPath(); ctx.moveTo(x2, y2);
  ctx.lineTo(x2 - len * c + half * s, y2 - len * s - half * c);
  ctx.lineTo(x2 - len * c - half * s, y2 - len * s + half * c);
  ctx.closePath(); ctx.fill();
}
function arrow(ctx, x1, y1, x2, y2, heads, lw, len, half, col) {
  ctx.save(); ctx.strokeStyle = col; ctx.fillStyle = col; ctx.lineWidth = lw;
  var ang = Math.atan2(y2 - y1, x2 - x1);
  var sx = heads === 2 ? x1 + (len - 2) * Math.cos(ang) : x1, sy = heads === 2 ? y1 + (len - 2) * Math.sin(ang) : y1;
  line(ctx, sx, sy, x2 - (len - 2) * Math.cos(ang), y2 - (len - 2) * Math.sin(ang));
  head(ctx, x1, y1, x2, y2, len, half);
  if (heads === 2) head(ctx, x2, y2, x1, y1, len, half);
  ctx.restore();
}
function hatch(col) {
  var c = document.createElement('canvas'); c.width = 7; c.height = 7;
  var g = c.getContext('2d'); g.strokeStyle = col; g.lineWidth = 1;
  g.beginPath(); g.moveTo(0, 7); g.lineTo(7, 0); g.moveTo(-1, 1); g.lineTo(1, -1); g.moveTo(6, 8); g.lineTo(8, 6); g.stroke();
  return g.createPattern(c, 'repeat');
}

var common = {
  responsive: false, animation: false, events: [], devicePixelRatio: 1,
  plugins: { legend: { display: false }, tooltip: { enabled: false } }
};
function opts(pad, xs, ys) {
  return Object.assign({}, common, { layout: { padding: pad }, scales: { x: xs, y: ys } });
}
function curve(data, col, w) {
  return { data: data, borderColor: col, borderWidth: w, pointRadius: 0, tension: 0, fill: false, borderJoinStyle: 'round' };
}
function band(xs, top, bot, col) {
  return [
    { data: seg(xs, top), fill: '+1', backgroundColor: col, borderColor: 'rgba(0,0,0,0)', borderWidth: 1, pointRadius: 0, tension: 0 },
    { data: seg(xs, bot), fill: false, borderColor: 'rgba(0,0,0,0)', borderWidth: 1, pointRadius: 0, tension: 0 }
  ];
}

// ---------- panel a ----------
var decoA = {
  id: 'decoA',
  afterDraw: function (chart) {
    var ctx = chart.ctx, sx = chart.scales.x, sy = chart.scales.y;
    frame(chart, 'lrtb', 1.3, '#222');
    var xt = []; for (var v = 0; v <= 7; v += 0.5) xt.push(v);
    ticksX(chart, xt, 7, '#222');
    labelsX(chart, aXTicks, 31, '21px ' + SANS);
    var lt = logTicks(sy.min, sy.max);
    ticksY(chart, lt.major, 10, '#222');
    ticksY(chart, lt.minor, 5, '#222');
    powLabels(chart, aYExp, 14, '26px ' + SANS, '17px ' + SANS, 4);
    text(ctx, 'Tension (V)', 373, 636, '22px ' + SANS, '#000');
    vText(ctx, 'Courant (A)', 31, 321, '24px ' + SANS, '#000');
    text(ctx, 'a)', 121, 37, '36px ' + SERIF, '#000', 'left', 'alphabetic');
    aArrows.forEach(function (r) {
      arrow(ctx, sx.getPixelForValue(r[0]), sy.getPixelForValue(Math.pow(10, r[1])),
        sx.getPixelForValue(r[2]), sy.getPixelForValue(Math.pow(10, r[3])), r[4], 1.5, 10, 4, '#000');
    });
  }
};
new Chart(document.getElementById('chartA'), {
  type: 'line',
  data: { datasets: [curve(pts(aSet), '#4a4a4a', 1), curve(pts(aOn.concat(aOff)), '#222', 1.1)] },
  options: opts({ left: 124, top: 70, right: 21, bottom: 86 },
    { type: 'linear', min: -0.1, max: 7.03, display: false },
    { type: 'logarithmic', min: Math.pow(10, -12.14), max: Math.pow(10, -3.11), display: false }),
  plugins: [decoA]
});

// inset
var decoIn = {
  id: 'decoIn',
  afterDraw: function (chart) {
    frame(chart, 'lrtb', 1, '#444');
    var minor = []; for (var v = 0.5; v < 7; v += 1) minor.push(v);
    ticksY(chart, inTicks, 4, '#444');
    ticksY(chart, minor, 2.5, '#444');
    labelsY(chart, inTicks, inTicks.map(String), 6, '12px ' + SANS);
  }
};
new Chart(document.getElementById('chartIn'), {
  type: 'line',
  data: { datasets: [curve(xy(inT, inV), '#7a7a7a', 1.1), curve(xy(inBackT, inBackV), '#c4c4c4', 1.2)] },
  options: opts({ left: 34, top: 12, right: 6, bottom: 10 },
    { type: 'linear', min: -0.31, max: 15.31, display: false },
    { type: 'linear', min: -0.086, max: 7.06, display: false }),
  plugins: [decoIn]
});

// ---------- panel b top ----------
var bSets = [].concat(
  band(bandOffV, bandOffTop, bandOffBot, 'rgba(0,0,0,0.9)'),
  band(bandOnV, bandOnTop, bandOnBot, 'rgba(0,0,0,0.6)'),
  band(bandSetV, bandSetTop, bandSetBot, 'rgba(0,0,0,0.65)'),
  band(bandMidV, bandMidTop, bandMidBot, 'rgba(0,0,0,0.55)'),
  band(bandTailV, bandTailTop, bandTailBot, 'rgba(0,0,0,0.6)')
);
var ink = 'rgba(0,0,0,0.9)';
onLogs.forEach(function (ls, i) {
  var p = seg(onV, ls);
  if (onMid[i] >= 0) p = p.concat(seg(midV, midLogs[onMid[i]]));
  if (onLow[i] >= 0) p = p.concat(seg(lowV, lowLogs[onLow[i]]));
  if (onTail[i] >= 0) p = p.concat(seg(tailV, tailLogs[onTail[i]]));
  bSets.push(curve(p, ink, 0.85));
});
offNoise.forEach(function (ls, i) {
  var p = seg(offV, ls).concat(pts(offSet[i]));
  if (offMid[i] >= 0) p = p.concat(seg(midV, midLogs[offMid[i]]));
  if (offTail[i] >= 0) p = p.concat(seg(tailV, tailLogs[offTail[i]]));
  bSets.push(curve(p, ink, 0.85));
});
jumpV.forEach(function (v, i) {
  bSets.push(curve(pts([[v, jumpLo[i]], [v, jumpHi[i]]]), ink, 0.85));
});

var decoB = {
  id: 'decoB',
  afterDatasetsDraw: function (chart) {
    var ctx = chart.ctx, a = chart.chartArea, x = Math.round(chart.scales.x.getPixelForValue(readLimit)) + 0.5;
    ctx.save(); ctx.strokeStyle = 'rgba(50,50,255,0.85)'; ctx.lineWidth = 1; ctx.setLineDash([2, 2]);
    line(ctx, x, a.top, x, chart.height); ctx.restore();
  },
  afterDraw: function (chart) {
    var ctx = chart.ctx, sy = chart.scales.y;
    frame(chart, 'lrtb', 1.5, '#333');
    ticksX(chart, bXTicks, 6, '#333');
    labelsX(chart, bXTicks, 27, '24px ' + SANS);
    var lt = logTicks(sy.min, sy.max);
    ticksY(chart, lt.major, 6, '#333');
    ticksY(chart, lt.minor, 3.5, '#333');
    powLabels(chart, bYExp, 7, '29px ' + SANS, '17px ' + SANS, 7);
    vText(ctx, 'Courant (A)', 50, 228, '26px ' + SANS, '#000');
    text(ctx, 'b)', 82, 34, '33px ' + SERIF, '#000', 'left', 'alphabetic');
  }
};
new Chart(document.getElementById('chartB'), {
  type: 'line',
  data: { datasets: bSets },
  options: opts({ left: 137, top: 10, right: 14, bottom: 43 },
    { type: 'linear', min: -0.18, max: 10.18, display: false },
    { type: 'logarithmic', min: Math.pow(10, -7.225), max: Math.pow(10, -3.30), display: false }),
  plugins: [decoB]
});

// ---------- panel b bottom ----------
var decoH = {
  id: 'decoH',
  afterDatasetsDraw: function (chart) {
    var ctx = chart.ctx, a = chart.chartArea, sx = chart.scales.x, sy = chart.scales.y;
    var x = Math.round(sx.getPixelForValue(readLimit)) + 0.5;
    ctx.save(); ctx.strokeStyle = 'rgba(50,50,255,0.85)'; ctx.lineWidth = 1; ctx.setLineDash([2, 2]);
    line(ctx, x, 0, x, a.bottom); ctx.restore();
    var yA = sy.getPixelForValue(readRange[2]);
    arrow(ctx, sx.getPixelForValue(readRange[0]), yA, sx.getPixelForValue(readRange[1]), yA, 2, 2.5, 12, 5, '#1010ff');
  },
  afterDraw: function (chart) {
    var ctx = chart.ctx, sx = chart.scales.x, sy = chart.scales.y;
    frame(chart, 'lrb', 1.5, '#333');
    ticksX(chart, hXTicks, 6, '#333');
    labelsX(chart, hXTicks, 20, '25px ' + SANS);
    ticksY(chart, hYTicks, 4, '#333');
    labelsY(chart, hYTicks, hYLabels, 7, '25px ' + SANS);
    var f = '17.5px ' + SANS;
    text(ctx, 'Plage de', sx.getPixelForValue(1.14), sy.getPixelForValue(0.445), f, '#0000ff', 'center', 'alphabetic');
    text(ctx, 'lecture', sx.getPixelForValue(1.14), sy.getPixelForValue(0.347), f, '#0000ff', 'center', 'alphabetic');
    text(ctx, 'Tension', sx.getPixelForValue(3.78), sy.getPixelForValue(0.559), f, '#ff1010', 'center', 'alphabetic');
    text(ctx, "d'écriture", sx.getPixelForValue(3.8), sy.getPixelForValue(0.46), f, '#ff1010', 'center', 'alphabetic');
    text(ctx, 'Tension', sx.getPixelForValue(7.28), sy.getPixelForValue(0.559), f, 'rgb(0,145,0)', 'center', 'alphabetic');
    text(ctx, "d'effacement", sx.getPixelForValue(7.33), sy.getPixelForValue(0.46), f, 'rgb(0,145,0)', 'center', 'alphabetic');
    text(ctx, 'Tension (V)', 338, 199, '24px ' + SANS, '#000');
    vText(ctx, 'Occurence', 37, 80, '28px ' + SANS, '#000');
    vText(ctx, 'normalisée', 66, 80, '28px ' + SANS, '#000');
  }
};
new Chart(document.getElementById('chartH'), {
  type: 'bar',
  data: { datasets: [
    { type: 'bar', data: xy(writeV, writeH), backgroundColor: hatch('rgba(255,70,70,0.6)'), borderColor: 'rgba(255,70,70,0.55)',
      borderWidth: 1, barThickness: 9.6, grouped: false, borderSkipped: false },
    { type: 'bar', data: xy(eraseV, eraseH), backgroundColor: hatch('rgba(0,140,0,0.45)'), borderColor: 'rgba(0,140,0,0.4)',
      borderWidth: 1, barThickness: 16, grouped: false, borderSkipped: false },
    { type: 'line', data: xy(writeFitV, writeFitH), borderColor: 'rgba(255,80,80,0.6)', borderWidth: 1, pointRadius: 0,
      cubicInterpolationMode: 'monotone', fill: false },
    { type: 'line', data: xy(eraseFitV, eraseFitH), borderColor: 'rgba(0,140,0,0.45)', borderWidth: 1, pointRadius: 0,
      cubicInterpolationMode: 'monotone', fill: false }
  ] },
  options: opts({ left: 137, top: 23, right: 14, bottom: 71 },
    { type: 'linear', min: -0.18, max: 10.18, display: false, offset: false },
    { type: 'linear', min: 0, max: 0.545, display: false }),
  plugins: [decoH]
});
</script>
</body>
</html>
